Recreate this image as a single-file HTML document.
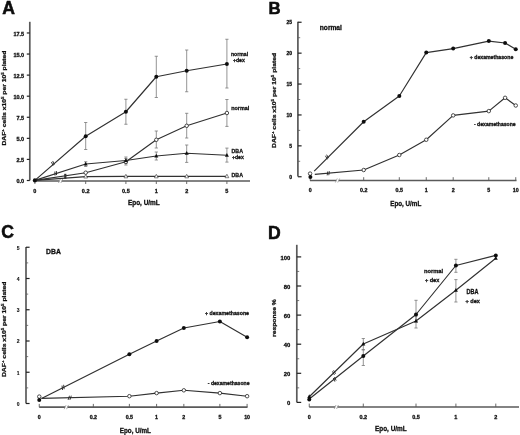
<!DOCTYPE html>
<html><head><meta charset="utf-8"><style>
html,body{margin:0;padding:0;background:#fff;}
svg{display:block;will-change:transform;}
text{font-family:"Liberation Sans", sans-serif;font-weight:bold;fill:#111;}
</style></head><body>
<svg width="520" height="435" viewBox="0 0 520 435">
<defs><filter id="bl" x="0" y="0" width="1" height="1"><feGaussianBlur stdDeviation="0.35"/></filter></defs>
<rect width="520" height="435" fill="#fff"/>
<g filter="url(#bl)">
<rect width="520" height="435" fill="#fff"/>
<text x="2.30" y="14.00" font-size="17.6" stroke="#000" stroke-width="0.5">A</text>
<line x1="29.80" y1="21.80" x2="29.80" y2="180.40" stroke="#5a5a5a" stroke-width="1.7"/>
<line x1="26.80" y1="180.50" x2="29.80" y2="180.50" stroke="#222" stroke-width="1.2"/>
<text x="24.20" y="183.30" font-size="5.5" text-anchor="end" stroke="#111" stroke-width="0.3">0.0</text>
<line x1="26.80" y1="159.43" x2="29.80" y2="159.43" stroke="#222" stroke-width="1.2"/>
<text x="24.20" y="162.23" font-size="5.5" text-anchor="end" stroke="#111" stroke-width="0.3">2.5</text>
<line x1="26.80" y1="138.35" x2="29.80" y2="138.35" stroke="#222" stroke-width="1.2"/>
<text x="24.20" y="141.15" font-size="5.5" text-anchor="end" stroke="#111" stroke-width="0.3">5.0</text>
<line x1="26.80" y1="117.28" x2="29.80" y2="117.28" stroke="#222" stroke-width="1.2"/>
<text x="24.20" y="120.08" font-size="5.5" text-anchor="end" stroke="#111" stroke-width="0.3">7.5</text>
<line x1="26.80" y1="96.20" x2="29.80" y2="96.20" stroke="#222" stroke-width="1.2"/>
<text x="24.20" y="99.00" font-size="5.5" text-anchor="end" stroke="#111" stroke-width="0.3">10.0</text>
<line x1="26.80" y1="75.12" x2="29.80" y2="75.12" stroke="#222" stroke-width="1.2"/>
<text x="24.20" y="77.92" font-size="5.5" text-anchor="end" stroke="#111" stroke-width="0.3">12.5</text>
<line x1="26.80" y1="54.05" x2="29.80" y2="54.05" stroke="#222" stroke-width="1.2"/>
<text x="24.20" y="56.85" font-size="5.5" text-anchor="end" stroke="#111" stroke-width="0.3">15.0</text>
<line x1="26.80" y1="32.97" x2="29.80" y2="32.97" stroke="#222" stroke-width="1.2"/>
<text x="24.20" y="35.77" font-size="5.5" text-anchor="end" stroke="#111" stroke-width="0.3">17.5</text>
<text transform="translate(5.80,98.05) scale(0.82,1) rotate(-90)" font-size="6.6" text-anchor="middle" textLength="95.10" lengthAdjust="spacingAndGlyphs" stroke="#111" stroke-width="0.3">DAF<tspan font-size="4.29" dy="-2.51">+</tspan><tspan dy="2.51"> cells x10</tspan><tspan font-size="4.29" dy="-2.51">5</tspan><tspan dy="2.51"> per 10</tspan><tspan font-size="4.29" dy="-2.51">5</tspan><tspan dy="2.51"> plated</tspan></text>
<line x1="34.80" y1="181.00" x2="250.00" y2="181.00" stroke="#5a5a5a" stroke-width="1.7"/>
<rect x="59.40" y="179.00" width="2.4" height="4" fill="#fff"/>
<line x1="58.47" y1="182.99" x2="60.33" y2="179.01" stroke="#888" stroke-width="0.7"/>
<line x1="60.87" y1="182.99" x2="62.73" y2="179.01" stroke="#888" stroke-width="0.7"/>
<line x1="34.90" y1="181.00" x2="34.90" y2="184.00" stroke="#5a5a5a" stroke-width="0.9"/>
<text x="34.90" y="192.80" font-size="5.5" text-anchor="middle" stroke="#111" stroke-width="0.3">0</text>
<line x1="85.70" y1="181.00" x2="85.70" y2="184.00" stroke="#5a5a5a" stroke-width="0.9"/>
<text x="85.70" y="192.80" font-size="5.5" text-anchor="middle" stroke="#111" stroke-width="0.3">0.2</text>
<line x1="125.90" y1="181.00" x2="125.90" y2="184.00" stroke="#5a5a5a" stroke-width="0.9"/>
<text x="125.90" y="192.80" font-size="5.5" text-anchor="middle" stroke="#111" stroke-width="0.3">0.5</text>
<line x1="156.30" y1="181.00" x2="156.30" y2="184.00" stroke="#5a5a5a" stroke-width="0.9"/>
<text x="156.30" y="192.80" font-size="5.5" text-anchor="middle" stroke="#111" stroke-width="0.3">1</text>
<line x1="186.70" y1="181.00" x2="186.70" y2="184.00" stroke="#5a5a5a" stroke-width="0.9"/>
<text x="186.70" y="192.80" font-size="5.5" text-anchor="middle" stroke="#111" stroke-width="0.3">2</text>
<line x1="226.90" y1="181.00" x2="226.90" y2="184.00" stroke="#5a5a5a" stroke-width="0.9"/>
<text x="226.90" y="192.80" font-size="5.5" text-anchor="middle" stroke="#111" stroke-width="0.3">5</text>
<text x="127.90" y="204.90" font-size="6.8" text-anchor="start" textLength="31.90" lengthAdjust="spacingAndGlyphs" stroke="#111" stroke-width="0.3">Epo, U/mL</text>
<line x1="85.70" y1="122.50" x2="85.70" y2="149.50" stroke="#787878" stroke-width="0.8"/>
<line x1="84.10" y1="122.50" x2="87.30" y2="122.50" stroke="#787878" stroke-width="0.8"/>
<line x1="84.10" y1="149.50" x2="87.30" y2="149.50" stroke="#787878" stroke-width="0.8"/>
<line x1="125.90" y1="99.25" x2="125.90" y2="124.25" stroke="#787878" stroke-width="0.8"/>
<line x1="124.30" y1="99.25" x2="127.50" y2="99.25" stroke="#787878" stroke-width="0.8"/>
<line x1="124.30" y1="124.25" x2="127.50" y2="124.25" stroke="#787878" stroke-width="0.8"/>
<line x1="156.30" y1="56.25" x2="156.30" y2="97.50" stroke="#787878" stroke-width="0.8"/>
<line x1="154.70" y1="56.25" x2="157.90" y2="56.25" stroke="#787878" stroke-width="0.8"/>
<line x1="154.70" y1="97.50" x2="157.90" y2="97.50" stroke="#787878" stroke-width="0.8"/>
<line x1="186.70" y1="50.00" x2="186.70" y2="91.75" stroke="#787878" stroke-width="0.8"/>
<line x1="185.10" y1="50.00" x2="188.30" y2="50.00" stroke="#787878" stroke-width="0.8"/>
<line x1="185.10" y1="91.75" x2="188.30" y2="91.75" stroke="#787878" stroke-width="0.8"/>
<line x1="226.90" y1="39.25" x2="226.90" y2="88.00" stroke="#787878" stroke-width="0.8"/>
<line x1="225.30" y1="39.25" x2="228.50" y2="39.25" stroke="#787878" stroke-width="0.8"/>
<line x1="225.30" y1="88.00" x2="228.50" y2="88.00" stroke="#787878" stroke-width="0.8"/>
<line x1="125.90" y1="158.50" x2="125.90" y2="165.00" stroke="#787878" stroke-width="0.8"/>
<line x1="124.30" y1="158.50" x2="127.50" y2="158.50" stroke="#787878" stroke-width="0.8"/>
<line x1="124.30" y1="165.00" x2="127.50" y2="165.00" stroke="#787878" stroke-width="0.8"/>
<line x1="156.30" y1="131.00" x2="156.30" y2="148.00" stroke="#787878" stroke-width="0.8"/>
<line x1="154.70" y1="131.00" x2="157.90" y2="131.00" stroke="#787878" stroke-width="0.8"/>
<line x1="154.70" y1="148.00" x2="157.90" y2="148.00" stroke="#787878" stroke-width="0.8"/>
<line x1="186.70" y1="113.30" x2="186.70" y2="138.00" stroke="#787878" stroke-width="0.8"/>
<line x1="185.10" y1="113.30" x2="188.30" y2="113.30" stroke="#787878" stroke-width="0.8"/>
<line x1="185.10" y1="138.00" x2="188.30" y2="138.00" stroke="#787878" stroke-width="0.8"/>
<line x1="226.90" y1="99.50" x2="226.90" y2="126.40" stroke="#787878" stroke-width="0.8"/>
<line x1="225.30" y1="99.50" x2="228.50" y2="99.50" stroke="#787878" stroke-width="0.8"/>
<line x1="225.30" y1="126.40" x2="228.50" y2="126.40" stroke="#787878" stroke-width="0.8"/>
<line x1="85.70" y1="161.75" x2="85.70" y2="166.50" stroke="#787878" stroke-width="0.8"/>
<line x1="84.10" y1="161.75" x2="87.30" y2="161.75" stroke="#787878" stroke-width="0.8"/>
<line x1="84.10" y1="166.50" x2="87.30" y2="166.50" stroke="#787878" stroke-width="0.8"/>
<line x1="125.90" y1="157.00" x2="125.90" y2="163.50" stroke="#787878" stroke-width="0.8"/>
<line x1="124.30" y1="157.00" x2="127.50" y2="157.00" stroke="#787878" stroke-width="0.8"/>
<line x1="124.30" y1="163.50" x2="127.50" y2="163.50" stroke="#787878" stroke-width="0.8"/>
<line x1="156.30" y1="152.00" x2="156.30" y2="160.00" stroke="#787878" stroke-width="0.8"/>
<line x1="154.70" y1="152.00" x2="157.90" y2="152.00" stroke="#787878" stroke-width="0.8"/>
<line x1="154.70" y1="160.00" x2="157.90" y2="160.00" stroke="#787878" stroke-width="0.8"/>
<line x1="186.70" y1="145.00" x2="186.70" y2="162.40" stroke="#787878" stroke-width="0.8"/>
<line x1="185.10" y1="145.00" x2="188.30" y2="145.00" stroke="#787878" stroke-width="0.8"/>
<line x1="185.10" y1="162.40" x2="188.30" y2="162.40" stroke="#787878" stroke-width="0.8"/>
<line x1="226.90" y1="148.10" x2="226.90" y2="162.10" stroke="#787878" stroke-width="0.8"/>
<line x1="225.30" y1="148.10" x2="228.50" y2="148.10" stroke="#787878" stroke-width="0.8"/>
<line x1="225.30" y1="162.10" x2="228.50" y2="162.10" stroke="#787878" stroke-width="0.8"/>
<polyline points="34.90,180.40 85.70,136.25 125.90,111.75 156.30,76.75 186.70,70.75 226.90,64.00" fill="none" stroke="#303030" stroke-width="1.15" stroke-linejoin="round"/>
<polyline points="34.90,180.40 85.70,172.70 125.90,161.75 156.30,139.80 186.70,125.80 226.90,113.00" fill="none" stroke="#303030" stroke-width="1.15" stroke-linejoin="round"/>
<polyline points="34.90,180.40 85.70,164.00 125.90,160.50 156.30,156.00 186.70,153.30 226.90,155.30" fill="none" stroke="#303030" stroke-width="1.15" stroke-linejoin="round"/>
<polyline points="34.90,180.40 85.70,176.60 125.90,176.40 156.30,176.40 186.70,176.40 226.90,176.30" fill="none" stroke="#303030" stroke-width="1.15" stroke-linejoin="round"/>
<circle cx="85.70" cy="136.25" r="2.0" fill="#111"/>
<circle cx="125.90" cy="111.75" r="2.0" fill="#111"/>
<circle cx="156.30" cy="76.75" r="2.0" fill="#111"/>
<circle cx="186.70" cy="70.75" r="2.0" fill="#111"/>
<circle cx="226.90" cy="64.00" r="2.0" fill="#111"/>
<circle cx="85.70" cy="172.70" r="1.75" fill="#fff" stroke="#222" stroke-width="0.8"/>
<circle cx="125.90" cy="161.75" r="1.75" fill="#fff" stroke="#222" stroke-width="0.8"/>
<circle cx="156.30" cy="139.80" r="1.75" fill="#fff" stroke="#222" stroke-width="0.8"/>
<circle cx="186.70" cy="125.80" r="1.75" fill="#fff" stroke="#222" stroke-width="0.8"/>
<circle cx="226.90" cy="113.00" r="1.75" fill="#fff" stroke="#222" stroke-width="0.8"/>
<polygon points="85.70,161.80 83.70,165.50 87.70,165.50" fill="#111"/>
<polygon points="125.90,158.30 123.90,162.00 127.90,162.00" fill="#111"/>
<polygon points="156.30,153.80 154.30,157.50 158.30,157.50" fill="#111"/>
<polygon points="186.70,151.10 184.70,154.80 188.70,154.80" fill="#111"/>
<polygon points="226.90,153.10 224.90,156.80 228.90,156.80" fill="#111"/>
<polygon points="85.70,174.51 83.80,178.03 87.60,178.03" fill="#fff" stroke="#333" stroke-width="0.6"/>
<polygon points="125.90,174.31 124.00,177.83 127.80,177.83" fill="#fff" stroke="#333" stroke-width="0.6"/>
<polygon points="156.30,174.31 154.40,177.83 158.20,177.83" fill="#fff" stroke="#333" stroke-width="0.6"/>
<polygon points="186.70,174.31 184.80,177.83 188.60,177.83" fill="#fff" stroke="#333" stroke-width="0.6"/>
<polygon points="226.90,174.21 225.00,177.73 228.80,177.73" fill="#fff" stroke="#333" stroke-width="0.6"/>
<circle cx="34.90" cy="180.40" r="2.1" fill="#111"/>
<line x1="53.11" y1="165.63" x2="51.45" y2="161.99" stroke="#222" stroke-width="0.9"/>
<line x1="54.35" y1="164.61" x2="52.69" y2="160.97" stroke="#222" stroke-width="0.9"/>
<line x1="55.01" y1="175.54" x2="54.86" y2="171.54" stroke="#222" stroke-width="0.9"/>
<line x1="56.54" y1="175.06" x2="56.39" y2="171.06" stroke="#222" stroke-width="0.9"/>
<rect x="64.2" y="173.8" width="2.2" height="5" fill="#333"/>
<text x="230.90" y="55.80" font-size="6.1" text-anchor="start" textLength="17.30" lengthAdjust="spacingAndGlyphs" stroke="#111" stroke-width="0.3">normal</text>
<text x="232.90" y="62.30" font-size="6.1" text-anchor="start" textLength="11.90" lengthAdjust="spacingAndGlyphs" stroke="#111" stroke-width="0.3">+dex</text>
<text x="231.20" y="109.70" font-size="6.1" text-anchor="start" textLength="18.20" lengthAdjust="spacingAndGlyphs" stroke="#111" stroke-width="0.3">normal</text>
<text x="231.50" y="152.80" font-size="6.1" text-anchor="start" textLength="11.50" lengthAdjust="spacingAndGlyphs" stroke="#111" stroke-width="0.3">DBA</text>
<text x="231.90" y="159.20" font-size="6.1" text-anchor="start" textLength="11.90" lengthAdjust="spacingAndGlyphs" stroke="#111" stroke-width="0.3">+dex</text>
<text x="231.50" y="177.10" font-size="6.1" text-anchor="start" textLength="11.50" lengthAdjust="spacingAndGlyphs" stroke="#111" stroke-width="0.3">DBA</text>
<text x="268.40" y="13.70" font-size="16.8" stroke="#000" stroke-width="0.5">B</text>
<line x1="297.90" y1="21.70" x2="297.90" y2="176.60" stroke="#5a5a5a" stroke-width="1.7"/>
<line x1="297.90" y1="176.75" x2="301.60" y2="176.75" stroke="#222" stroke-width="1.2"/>
<text x="292.10" y="178.85" font-size="5.0" text-anchor="end" stroke="#111" stroke-width="0.3">0</text>
<line x1="297.90" y1="145.85" x2="301.60" y2="145.85" stroke="#222" stroke-width="1.2"/>
<text x="292.10" y="147.95" font-size="5.0" text-anchor="end" stroke="#111" stroke-width="0.3">5</text>
<line x1="297.90" y1="114.95" x2="301.60" y2="114.95" stroke="#222" stroke-width="1.2"/>
<text x="292.10" y="117.05" font-size="5.0" text-anchor="end" stroke="#111" stroke-width="0.3">10</text>
<line x1="297.90" y1="84.05" x2="301.60" y2="84.05" stroke="#222" stroke-width="1.2"/>
<text x="292.10" y="86.15" font-size="5.0" text-anchor="end" stroke="#111" stroke-width="0.3">15</text>
<line x1="297.90" y1="53.15" x2="301.60" y2="53.15" stroke="#222" stroke-width="1.2"/>
<text x="292.10" y="55.25" font-size="5.0" text-anchor="end" stroke="#111" stroke-width="0.3">20</text>
<line x1="297.90" y1="22.25" x2="301.60" y2="22.25" stroke="#222" stroke-width="1.2"/>
<text x="292.10" y="24.35" font-size="5.0" text-anchor="end" stroke="#111" stroke-width="0.3">25</text>
<line x1="297.90" y1="161.30" x2="300.20" y2="161.30" stroke="#5a5a5a" stroke-width="0.8"/>
<line x1="297.90" y1="130.40" x2="300.20" y2="130.40" stroke="#5a5a5a" stroke-width="0.8"/>
<line x1="297.90" y1="99.50" x2="300.20" y2="99.50" stroke="#5a5a5a" stroke-width="0.8"/>
<line x1="297.90" y1="68.60" x2="300.20" y2="68.60" stroke="#5a5a5a" stroke-width="0.8"/>
<line x1="297.90" y1="37.70" x2="300.20" y2="37.70" stroke="#5a5a5a" stroke-width="0.8"/>
<text transform="translate(276.30,100.45) scale(0.82,1) rotate(-90)" font-size="6.6" text-anchor="middle" textLength="95.10" lengthAdjust="spacingAndGlyphs" stroke="#111" stroke-width="0.3">DAF<tspan font-size="4.29" dy="-2.51">+</tspan><tspan dy="2.51"> cells x10</tspan><tspan font-size="4.29" dy="-2.51">5</tspan><tspan dy="2.51"> per 10</tspan><tspan font-size="4.29" dy="-2.51">5</tspan><tspan dy="2.51"> plated</tspan></text>
<line x1="310.00" y1="180.50" x2="516.50" y2="180.50" stroke="#5a5a5a" stroke-width="1.7"/>
<rect x="336.30" y="178.50" width="2.4" height="4" fill="#fff"/>
<line x1="335.37" y1="182.49" x2="337.23" y2="178.51" stroke="#888" stroke-width="0.7"/>
<line x1="337.77" y1="182.49" x2="339.63" y2="178.51" stroke="#888" stroke-width="0.7"/>
<line x1="310.20" y1="177.20" x2="310.20" y2="180.50" stroke="#5a5a5a" stroke-width="0.9"/>
<text x="310.20" y="192.20" font-size="5.3" text-anchor="middle" stroke="#111" stroke-width="0.3">0</text>
<line x1="363.69" y1="177.20" x2="363.69" y2="180.50" stroke="#5a5a5a" stroke-width="0.9"/>
<text x="363.69" y="192.20" font-size="5.3" text-anchor="middle" stroke="#111" stroke-width="0.3">0.2</text>
<line x1="399.31" y1="177.20" x2="399.31" y2="180.50" stroke="#5a5a5a" stroke-width="0.9"/>
<text x="399.31" y="192.20" font-size="5.3" text-anchor="middle" stroke="#111" stroke-width="0.3">0.5</text>
<line x1="426.25" y1="177.20" x2="426.25" y2="180.50" stroke="#5a5a5a" stroke-width="0.9"/>
<text x="426.25" y="192.20" font-size="5.3" text-anchor="middle" stroke="#111" stroke-width="0.3">1</text>
<line x1="453.19" y1="177.20" x2="453.19" y2="180.50" stroke="#5a5a5a" stroke-width="0.9"/>
<text x="453.19" y="192.20" font-size="5.3" text-anchor="middle" stroke="#111" stroke-width="0.3">2</text>
<line x1="488.81" y1="177.20" x2="488.81" y2="180.50" stroke="#5a5a5a" stroke-width="0.9"/>
<text x="488.81" y="192.20" font-size="5.3" text-anchor="middle" stroke="#111" stroke-width="0.3">5</text>
<line x1="515.75" y1="177.20" x2="515.75" y2="180.50" stroke="#5a5a5a" stroke-width="0.9"/>
<text x="515.75" y="192.20" font-size="5.3" text-anchor="middle" stroke="#111" stroke-width="0.3">10</text>
<text x="390.20" y="205.60" font-size="6.8" text-anchor="start" textLength="31.10" lengthAdjust="spacingAndGlyphs" stroke="#111" stroke-width="0.3">Epo, U/mL</text>
<polyline points="314.20,171.20 363.69,121.75 399.31,96.00 426.25,52.60 453.19,48.60 488.81,41.10 505.08,43.00 515.75,49.20" fill="none" stroke="#303030" stroke-width="1.15" stroke-linejoin="round"/>
<polyline points="314.80,174.40 363.69,170.00 399.31,155.00 426.25,139.75 453.19,115.40 488.81,111.10 505.08,97.80 515.75,105.50" fill="none" stroke="#303030" stroke-width="1.15" stroke-linejoin="round"/>
<circle cx="363.69" cy="121.75" r="2.0" fill="#111"/>
<circle cx="399.31" cy="96.00" r="2.0" fill="#111"/>
<circle cx="426.25" cy="52.60" r="2.0" fill="#111"/>
<circle cx="453.19" cy="48.60" r="2.0" fill="#111"/>
<circle cx="488.81" cy="41.10" r="2.0" fill="#111"/>
<circle cx="505.08" cy="43.00" r="2.0" fill="#111"/>
<circle cx="515.75" cy="49.20" r="2.0" fill="#111"/>
<circle cx="363.69" cy="170.00" r="1.75" fill="#fff" stroke="#222" stroke-width="0.8"/>
<circle cx="399.31" cy="155.00" r="1.75" fill="#fff" stroke="#222" stroke-width="0.8"/>
<circle cx="426.25" cy="139.75" r="1.75" fill="#fff" stroke="#222" stroke-width="0.8"/>
<circle cx="453.19" cy="115.40" r="1.75" fill="#fff" stroke="#222" stroke-width="0.8"/>
<circle cx="488.81" cy="111.10" r="1.75" fill="#fff" stroke="#222" stroke-width="0.8"/>
<circle cx="505.08" cy="97.80" r="1.75" fill="#fff" stroke="#222" stroke-width="0.8"/>
<circle cx="515.75" cy="105.50" r="1.75" fill="#fff" stroke="#222" stroke-width="0.8"/>
<circle cx="310.10" cy="173.60" r="1.75" fill="#fff" stroke="#222" stroke-width="0.8"/>
<circle cx="310.40" cy="177.00" r="2.0" fill="#111"/>
<line x1="327.39" y1="159.31" x2="325.46" y2="155.80" stroke="#222" stroke-width="0.9"/>
<line x1="328.54" y1="158.20" x2="326.61" y2="154.69" stroke="#222" stroke-width="0.9"/>
<line x1="327.17" y1="175.35" x2="327.84" y2="171.40" stroke="#222" stroke-width="0.9"/>
<line x1="328.76" y1="175.20" x2="329.43" y2="171.25" stroke="#222" stroke-width="0.9"/>
<text x="319.80" y="29.80" font-size="6.6" text-anchor="start" textLength="22.10" lengthAdjust="spacingAndGlyphs" stroke="#111" stroke-width="0.3">normal</text>
<text x="469.80" y="58.60" font-size="5.9" text-anchor="start" textLength="43.50" lengthAdjust="spacingAndGlyphs" stroke="#111" stroke-width="0.3">+ dexamethasone</text>
<text x="474.00" y="126.00" font-size="5.9" text-anchor="start" textLength="41.60" lengthAdjust="spacingAndGlyphs" stroke="#111" stroke-width="0.3">- dexamethasone</text>
<text x="1.20" y="237.80" font-size="17.6" stroke="#000" stroke-width="0.5">C</text>
<line x1="26.00" y1="246.90" x2="26.00" y2="403.60" stroke="#5a5a5a" stroke-width="1.7"/>
<line x1="26.00" y1="403.50" x2="29.60" y2="403.50" stroke="#222" stroke-width="1.2"/>
<text x="19.60" y="405.90" font-size="5.0" text-anchor="end" stroke="#111" stroke-width="0.1">0</text>
<line x1="26.00" y1="372.25" x2="29.60" y2="372.25" stroke="#222" stroke-width="1.2"/>
<text x="19.60" y="374.65" font-size="5.0" text-anchor="end" stroke="#111" stroke-width="0.1">1</text>
<line x1="26.00" y1="341.00" x2="29.60" y2="341.00" stroke="#222" stroke-width="1.2"/>
<text x="19.60" y="343.40" font-size="5.0" text-anchor="end" stroke="#111" stroke-width="0.1">2</text>
<line x1="26.00" y1="309.75" x2="29.60" y2="309.75" stroke="#222" stroke-width="1.2"/>
<text x="19.60" y="312.15" font-size="5.0" text-anchor="end" stroke="#111" stroke-width="0.1">3</text>
<line x1="26.00" y1="278.50" x2="29.60" y2="278.50" stroke="#222" stroke-width="1.2"/>
<text x="19.60" y="280.90" font-size="5.0" text-anchor="end" stroke="#111" stroke-width="0.1">4</text>
<line x1="26.00" y1="247.25" x2="29.60" y2="247.25" stroke="#222" stroke-width="1.2"/>
<text x="19.60" y="249.65" font-size="5.0" text-anchor="end" stroke="#111" stroke-width="0.1">5</text>
<line x1="26.00" y1="387.88" x2="28.20" y2="387.88" stroke="#5a5a5a" stroke-width="0.8"/>
<line x1="26.00" y1="356.62" x2="28.20" y2="356.62" stroke="#5a5a5a" stroke-width="0.8"/>
<line x1="26.00" y1="325.38" x2="28.20" y2="325.38" stroke="#5a5a5a" stroke-width="0.8"/>
<line x1="26.00" y1="294.12" x2="28.20" y2="294.12" stroke="#5a5a5a" stroke-width="0.8"/>
<line x1="26.00" y1="262.88" x2="28.20" y2="262.88" stroke="#5a5a5a" stroke-width="0.8"/>
<text transform="translate(6.20,329.30) scale(0.82,1) rotate(-90)" font-size="6.6" text-anchor="middle" textLength="95.60" lengthAdjust="spacingAndGlyphs" stroke="#111" stroke-width="0.3">DAF<tspan font-size="4.29" dy="-2.51">+</tspan><tspan dy="2.51"> cells x10</tspan><tspan font-size="4.29" dy="-2.51">5</tspan><tspan dy="2.51"> per 10</tspan><tspan font-size="4.29" dy="-2.51">5</tspan><tspan dy="2.51"> plated</tspan></text>
<line x1="39.25" y1="407.20" x2="247.50" y2="407.20" stroke="#5a5a5a" stroke-width="1.7"/>
<rect x="65.10" y="405.20" width="2.4" height="4" fill="#fff"/>
<line x1="64.17" y1="409.19" x2="66.03" y2="405.21" stroke="#888" stroke-width="0.7"/>
<line x1="66.57" y1="409.19" x2="68.43" y2="405.21" stroke="#888" stroke-width="0.7"/>
<line x1="39.25" y1="403.90" x2="39.25" y2="407.20" stroke="#5a5a5a" stroke-width="0.9"/>
<text x="39.25" y="419.10" font-size="5.3" text-anchor="middle" stroke="#111" stroke-width="0.3">0</text>
<line x1="93.34" y1="403.90" x2="93.34" y2="407.20" stroke="#5a5a5a" stroke-width="0.9"/>
<text x="93.34" y="419.10" font-size="5.3" text-anchor="middle" stroke="#111" stroke-width="0.3">0.2</text>
<line x1="129.36" y1="403.90" x2="129.36" y2="407.20" stroke="#5a5a5a" stroke-width="0.9"/>
<text x="129.36" y="419.10" font-size="5.3" text-anchor="middle" stroke="#111" stroke-width="0.3">0.5</text>
<line x1="156.60" y1="403.90" x2="156.60" y2="407.20" stroke="#5a5a5a" stroke-width="0.9"/>
<text x="156.60" y="419.10" font-size="5.3" text-anchor="middle" stroke="#111" stroke-width="0.3">1</text>
<line x1="183.84" y1="403.90" x2="183.84" y2="407.20" stroke="#5a5a5a" stroke-width="0.9"/>
<text x="183.84" y="419.10" font-size="5.3" text-anchor="middle" stroke="#111" stroke-width="0.3">2</text>
<line x1="219.86" y1="403.90" x2="219.86" y2="407.20" stroke="#5a5a5a" stroke-width="0.9"/>
<text x="219.86" y="419.10" font-size="5.3" text-anchor="middle" stroke="#111" stroke-width="0.3">5</text>
<line x1="247.10" y1="403.90" x2="247.10" y2="407.20" stroke="#5a5a5a" stroke-width="0.9"/>
<text x="247.10" y="419.10" font-size="5.3" text-anchor="middle" stroke="#111" stroke-width="0.3">10</text>
<text x="119.80" y="432.60" font-size="6.8" text-anchor="start" textLength="31.10" lengthAdjust="spacingAndGlyphs" stroke="#111" stroke-width="0.3">Epo, U/mL</text>
<polyline points="41.50,398.60 129.36,354.30 156.60,341.00 183.84,328.00 219.86,321.50 247.10,337.30" fill="none" stroke="#303030" stroke-width="1.15" stroke-linejoin="round"/>
<polyline points="41.50,398.40 129.36,396.20 156.60,393.10 183.84,390.30 219.86,393.10 247.10,396.20" fill="none" stroke="#303030" stroke-width="1.15" stroke-linejoin="round"/>
<circle cx="129.36" cy="354.30" r="2.0" fill="#111"/>
<circle cx="156.60" cy="341.00" r="2.0" fill="#111"/>
<circle cx="183.84" cy="328.00" r="2.0" fill="#111"/>
<circle cx="219.86" cy="321.50" r="2.0" fill="#111"/>
<circle cx="247.10" cy="337.30" r="2.0" fill="#111"/>
<circle cx="129.36" cy="396.20" r="1.75" fill="#fff" stroke="#222" stroke-width="0.8"/>
<circle cx="156.60" cy="393.10" r="1.75" fill="#fff" stroke="#222" stroke-width="0.8"/>
<circle cx="183.84" cy="390.30" r="1.75" fill="#fff" stroke="#222" stroke-width="0.8"/>
<circle cx="219.86" cy="393.10" r="1.75" fill="#fff" stroke="#222" stroke-width="0.8"/>
<circle cx="247.10" cy="396.20" r="1.75" fill="#fff" stroke="#222" stroke-width="0.8"/>
<circle cx="39.25" cy="396.60" r="1.75" fill="#fff" stroke="#222" stroke-width="0.8"/>
<circle cx="39.25" cy="400.00" r="2.0" fill="#111"/>
<line x1="62.55" y1="389.99" x2="62.04" y2="385.62" stroke="#222" stroke-width="0.9"/>
<line x1="64.16" y1="389.18" x2="63.65" y2="384.81" stroke="#222" stroke-width="0.9"/>
<line x1="68.10" y1="399.91" x2="69.50" y2="395.74" stroke="#222" stroke-width="0.9"/>
<line x1="69.90" y1="399.86" x2="71.30" y2="395.69" stroke="#222" stroke-width="0.9"/>
<text x="46.10" y="254.10" font-size="6.6" text-anchor="start" textLength="14.70" lengthAdjust="spacingAndGlyphs" stroke="#111" stroke-width="0.3">DBA</text>
<text x="205.00" y="315.20" font-size="5.9" text-anchor="start" textLength="44.00" lengthAdjust="spacingAndGlyphs" stroke="#111" stroke-width="0.3">+ dexamethasone</text>
<text x="207.80" y="384.90" font-size="5.9" text-anchor="start" textLength="41.70" lengthAdjust="spacingAndGlyphs" stroke="#111" stroke-width="0.3">- dexamethasone</text>
<text x="268.10" y="238.70" font-size="17.6" stroke="#000" stroke-width="0.5">D</text>
<line x1="296.80" y1="244.80" x2="296.80" y2="402.40" stroke="#5a5a5a" stroke-width="1.7"/>
<line x1="296.80" y1="402.40" x2="301.20" y2="402.40" stroke="#222" stroke-width="1.2"/>
<text x="290.40" y="405.10" font-size="5.9" text-anchor="end" stroke="#111" stroke-width="0.3">0</text>
<line x1="296.80" y1="373.30" x2="301.20" y2="373.30" stroke="#222" stroke-width="1.2"/>
<text x="290.40" y="376.00" font-size="5.9" text-anchor="end" stroke="#111" stroke-width="0.3">20</text>
<line x1="296.80" y1="344.20" x2="301.20" y2="344.20" stroke="#222" stroke-width="1.2"/>
<text x="290.40" y="346.90" font-size="5.9" text-anchor="end" stroke="#111" stroke-width="0.3">40</text>
<line x1="296.80" y1="315.10" x2="301.20" y2="315.10" stroke="#222" stroke-width="1.2"/>
<text x="290.40" y="317.80" font-size="5.9" text-anchor="end" stroke="#111" stroke-width="0.3">60</text>
<line x1="296.80" y1="286.00" x2="301.20" y2="286.00" stroke="#222" stroke-width="1.2"/>
<text x="290.40" y="288.70" font-size="5.9" text-anchor="end" stroke="#111" stroke-width="0.3">80</text>
<line x1="296.80" y1="256.90" x2="301.20" y2="256.90" stroke="#222" stroke-width="1.2"/>
<text x="290.40" y="259.60" font-size="5.9" text-anchor="end" stroke="#111" stroke-width="0.3">100</text>
<line x1="296.80" y1="387.85" x2="299.20" y2="387.85" stroke="#5a5a5a" stroke-width="0.8"/>
<line x1="296.80" y1="358.75" x2="299.20" y2="358.75" stroke="#5a5a5a" stroke-width="0.8"/>
<line x1="296.80" y1="329.65" x2="299.20" y2="329.65" stroke="#5a5a5a" stroke-width="0.8"/>
<line x1="296.80" y1="300.55" x2="299.20" y2="300.55" stroke="#5a5a5a" stroke-width="0.8"/>
<line x1="296.80" y1="271.45" x2="299.20" y2="271.45" stroke="#5a5a5a" stroke-width="0.8"/>
<text transform="translate(276.2,318.05) scale(0.88,1) rotate(-90)" font-size="6.6" text-anchor="middle" textLength="37.8" lengthAdjust="spacingAndGlyphs" stroke="#111" stroke-width="0.3">response %</text>
<line x1="309.25" y1="407.00" x2="519.00" y2="407.00" stroke="#5a5a5a" stroke-width="1.7"/>
<rect x="335.10" y="405.00" width="2.4" height="4" fill="#fff"/>
<line x1="334.17" y1="408.99" x2="336.03" y2="405.01" stroke="#888" stroke-width="0.7"/>
<line x1="336.57" y1="408.99" x2="338.43" y2="405.01" stroke="#888" stroke-width="0.7"/>
<line x1="309.25" y1="403.60" x2="309.25" y2="407.00" stroke="#5a5a5a" stroke-width="0.9"/>
<text x="309.25" y="418.90" font-size="5.5" text-anchor="middle" stroke="#111" stroke-width="0.3">0</text>
<line x1="363.29" y1="403.60" x2="363.29" y2="407.00" stroke="#5a5a5a" stroke-width="0.9"/>
<text x="363.29" y="418.90" font-size="5.5" text-anchor="middle" stroke="#111" stroke-width="0.3">0.2</text>
<line x1="416.01" y1="403.60" x2="416.01" y2="407.00" stroke="#5a5a5a" stroke-width="0.9"/>
<text x="416.01" y="418.90" font-size="5.5" text-anchor="middle" stroke="#111" stroke-width="0.3">0.5</text>
<line x1="455.90" y1="403.60" x2="455.90" y2="407.00" stroke="#5a5a5a" stroke-width="0.9"/>
<text x="455.90" y="418.90" font-size="5.5" text-anchor="middle" stroke="#111" stroke-width="0.3">1</text>
<line x1="495.79" y1="403.60" x2="495.79" y2="407.00" stroke="#5a5a5a" stroke-width="0.9"/>
<text x="495.79" y="418.90" font-size="5.5" text-anchor="middle" stroke="#111" stroke-width="0.3">2</text>
<text x="375.00" y="431.40" font-size="7" text-anchor="start" textLength="31.70" lengthAdjust="spacingAndGlyphs" stroke="#111" stroke-width="0.3">Epo, U/mL</text>
<line x1="363.29" y1="349.75" x2="363.29" y2="365.50" stroke="#787878" stroke-width="0.8"/>
<line x1="361.69" y1="349.75" x2="364.89" y2="349.75" stroke="#787878" stroke-width="0.8"/>
<line x1="361.69" y1="365.50" x2="364.89" y2="365.50" stroke="#787878" stroke-width="0.8"/>
<line x1="416.01" y1="300.30" x2="416.01" y2="322.00" stroke="#787878" stroke-width="0.8"/>
<line x1="414.41" y1="300.30" x2="417.61" y2="300.30" stroke="#787878" stroke-width="0.8"/>
<line x1="414.41" y1="322.00" x2="417.61" y2="322.00" stroke="#787878" stroke-width="0.8"/>
<line x1="455.90" y1="259.30" x2="455.90" y2="272.30" stroke="#787878" stroke-width="0.8"/>
<line x1="454.30" y1="259.30" x2="457.50" y2="259.30" stroke="#787878" stroke-width="0.8"/>
<line x1="454.30" y1="272.30" x2="457.50" y2="272.30" stroke="#787878" stroke-width="0.8"/>
<line x1="363.29" y1="338.50" x2="363.29" y2="349.75" stroke="#787878" stroke-width="0.8"/>
<line x1="361.69" y1="338.50" x2="364.89" y2="338.50" stroke="#787878" stroke-width="0.8"/>
<line x1="361.69" y1="349.75" x2="364.89" y2="349.75" stroke="#787878" stroke-width="0.8"/>
<line x1="416.01" y1="316.00" x2="416.01" y2="328.00" stroke="#787878" stroke-width="0.8"/>
<line x1="414.41" y1="316.00" x2="417.61" y2="316.00" stroke="#787878" stroke-width="0.8"/>
<line x1="414.41" y1="328.00" x2="417.61" y2="328.00" stroke="#787878" stroke-width="0.8"/>
<line x1="455.90" y1="279.60" x2="455.90" y2="302.00" stroke="#787878" stroke-width="0.8"/>
<line x1="454.30" y1="279.60" x2="457.50" y2="279.60" stroke="#787878" stroke-width="0.8"/>
<line x1="454.30" y1="302.00" x2="457.50" y2="302.00" stroke="#787878" stroke-width="0.8"/>
<polyline points="309.25,399.00 363.29,356.00 416.01,314.50 455.90,265.50 495.79,255.40" fill="none" stroke="#303030" stroke-width="1.15" stroke-linejoin="round"/>
<polyline points="309.25,396.75 363.29,344.00 416.01,321.00 455.90,290.30 495.79,258.30" fill="none" stroke="#303030" stroke-width="1.15" stroke-linejoin="round"/>
<circle cx="363.29" cy="356.00" r="2.0" fill="#111"/>
<circle cx="416.01" cy="314.50" r="2.0" fill="#111"/>
<circle cx="455.90" cy="265.50" r="2.0" fill="#111"/>
<circle cx="495.79" cy="255.40" r="2.0" fill="#111"/>
<polygon points="363.29,341.80 361.29,345.50 365.29,345.50" fill="#111"/>
<polygon points="416.01,318.80 414.01,322.50 418.01,322.50" fill="#111"/>
<polygon points="455.90,288.10 453.90,291.80 457.90,291.80" fill="#111"/>
<polygon points="495.79,256.10 493.79,259.80 497.79,259.80" fill="#111"/>
<polygon points="309.25,394.30 307.25,398.00 311.25,398.00" fill="#111"/>
<circle cx="309.25" cy="399.50" r="2.0" fill="#111"/>
<line x1="334.41" y1="374.90" x2="332.45" y2="371.42" stroke="#222" stroke-width="0.9"/>
<line x1="335.55" y1="373.78" x2="333.59" y2="370.30" stroke="#222" stroke-width="0.9"/>
<line x1="334.90" y1="381.63" x2="333.26" y2="377.98" stroke="#222" stroke-width="0.9"/>
<line x1="336.14" y1="380.62" x2="334.50" y2="376.97" stroke="#222" stroke-width="0.9"/>
<text x="424.00" y="273.20" font-size="6.2" text-anchor="start" textLength="19.10" lengthAdjust="spacingAndGlyphs" stroke="#111" stroke-width="0.3">normal</text>
<text x="424.90" y="281.80" font-size="6.2" text-anchor="start" textLength="14.40" lengthAdjust="spacingAndGlyphs" stroke="#111" stroke-width="0.3">+ dex</text>
<text x="466.60" y="293.60" font-size="6.3" text-anchor="start" textLength="11.90" lengthAdjust="spacingAndGlyphs" stroke="#111" stroke-width="0.3">DBA</text>
<text x="465.50" y="302.60" font-size="6.2" text-anchor="start" textLength="14.40" lengthAdjust="spacingAndGlyphs" stroke="#111" stroke-width="0.3">+ dex</text>
</g>
</svg>
</body></html>
